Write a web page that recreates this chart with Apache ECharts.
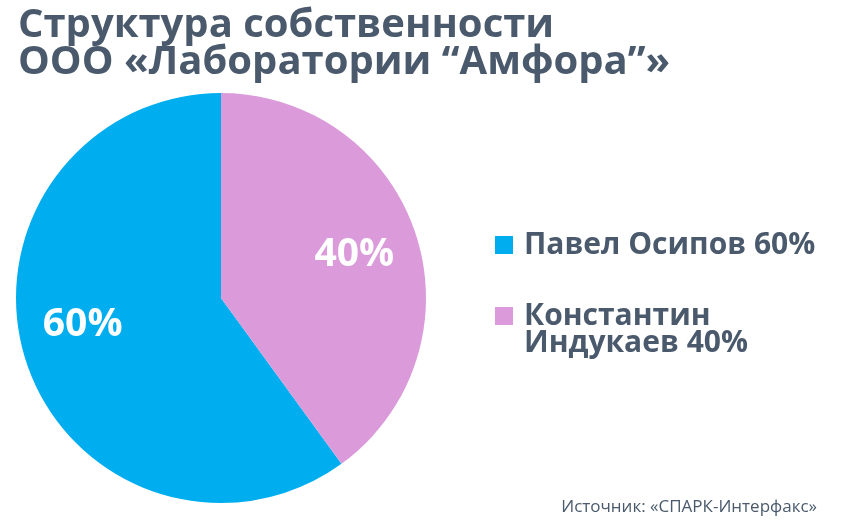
<!DOCTYPE html>
<html>
<head>
<meta charset="utf-8">
<script src="https://cdn.jsdelivr.net/npm/echarts@6/dist/echarts.min.js"></script>
<style>
    html, body {margin: 0; padding: 0; background: #fff;}
    #chart {width: 850px; height: 523px;}
</style>
</head>
<body>
<div id="chart"></div>
<script>
    var owners = ['Павел Осипов', 'Константин\nИндукаев'];
    var shares = [60, 40];
    var colors = ['#00aeef', '#db9bdb'];

    var textColor = '#4a5a6c';
    var font = '"Open Sans", sans-serif';

    var myChart = echarts.init(document.getElementById('chart'));

    var pieData = owners.map(function (name, i) {
        return {
            name: name,
            value: shares[i],
            itemStyle: {color: colors[i]},
            // labels sit further out than the default half radius
            label: {offset: i === 0 ? [-38, -6] : [33, -11]}
        };
    });

    var option = {
        animation: false,
        title: {
            text: 'Структура собственности\nООО «Лаборатории “Амфора”»',
            left: 13,
            top: 2,
            textStyle: {
                color: textColor,
                fontFamily: font,
                fontWeight: 'bold',
                fontSize: 40,
                lineHeight: 37
            }
        },
        legend: {
            orient: 'vertical',
            left: 490,
            top: 225,
            itemWidth: 18,
            itemHeight: 18,
            itemGap: 14,
            icon: 'rect',
            selectedMode: false,
            data: owners,
            formatter: function (name) {
                var i = owners.indexOf(name);
                // leading blank line keeps the square level with the first line
                return (name.indexOf('\n') > -1 ? '\n' : '') + name + ' ' + shares[i] + '%';
            },
            textStyle: {
                color: textColor,
                fontFamily: font,
                fontWeight: 'bold',
                fontSize: 30,
                lineHeight: 27,
                padding: [0, 0, 0, 6]
            }
        },
        graphic: [{
            type: 'text',
            right: 33,
            top: 499,
            style: {
                text: 'Источник: «СПАРК-Интерфакс»',
                fill: textColor,
                font: '17px "Open Sans", sans-serif'
            }
        }],
        series: [{
            type: 'pie',
            center: [221, 298],
            radius: [0, 205],
            startAngle: 90,
            clockwise: false,
            silent: true,
            label: {
                show: true,
                position: 'inside',
                formatter: '{c}%',
                color: '#fff',
                fontFamily: font,
                fontWeight: 'bold',
                fontSize: 39
            },
            labelLine: {show: false},
            data: pieData
        }]
    };

    myChart.setOption(option);
</script>
</body>
</html>
